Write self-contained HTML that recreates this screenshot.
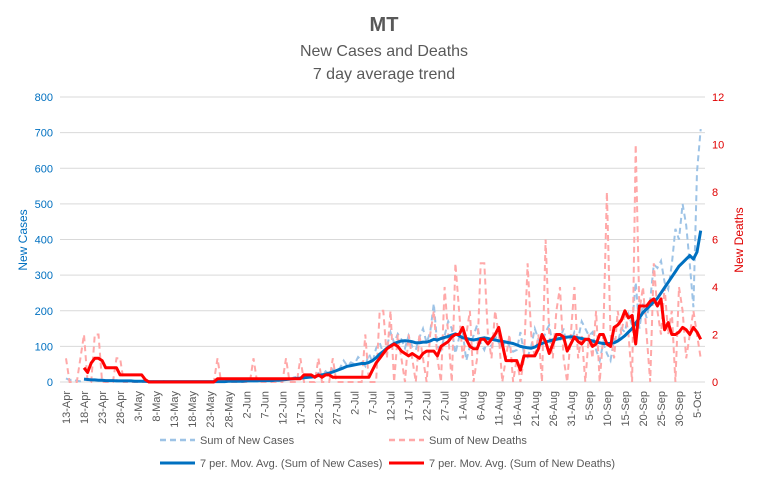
<!DOCTYPE html>
<html><head><meta charset="utf-8"><style>
body{margin:0;background:#fff;}
svg{display:block;font-family:"Liberation Sans",sans-serif;}
</style></head><body>
<svg id="chart" width="768" height="480" viewBox="0 0 768 480">
<rect width="768" height="480" fill="#fff"/>
<text x="384" y="31" text-anchor="middle" font-size="20" font-weight="bold" fill="#595959">MT</text>
<text x="384" y="56" text-anchor="middle" font-size="16" fill="#595959">New Cases and Deaths</text>
<text x="384" y="79" text-anchor="middle" font-size="16" fill="#595959">7 day average trend</text>
<text transform="translate(27,240) rotate(-90)" text-anchor="middle" font-size="12" fill="#0070C0">New Cases</text>
<text transform="translate(743,240) rotate(-90)" text-anchor="middle" font-size="12" fill="#E00000">New Deaths</text>
<g id="grid"></g><g id="xlabels"></g><g id="series"></g>
<g>
<line x1="160" y1="440" x2="195" y2="440" stroke="#9DC3E6" stroke-width="2.5" stroke-dasharray="6,4"/>
<text x="200" y="444" font-size="11" fill="#595959">Sum of New Cases</text>
<line x1="389" y1="440" x2="424" y2="440" stroke="#FFA8A8" stroke-width="2.5" stroke-dasharray="6,4"/>
<text x="429" y="444" font-size="11" fill="#595959">Sum of New Deaths</text>
<line x1="160" y1="463" x2="195" y2="463" stroke="#0070C0" stroke-width="3"/>
<text x="200" y="467" font-size="11" fill="#595959">7 per. Mov. Avg. (Sum of New Cases)</text>
<line x1="389" y1="463" x2="424" y2="463" stroke="#FF0000" stroke-width="3"/>
<text x="429" y="467" font-size="11" fill="#595959">7 per. Mov. Avg. (Sum of New Deaths)</text>
</g>
</svg>
<script>
const leftTicks=[0,100,200,300,400,500,600,700,800];
const rightTicks=[0,2,4,6,8,10,12];
const dateLabels=["13-Apr","18-Apr","23-Apr","28-Apr","3-May","8-May","13-May","18-May","23-May","28-May","2-Jun","7-Jun","12-Jun","17-Jun","22-Jun","27-Jun","2-Jul","7-Jul","12-Jul","17-Jul","22-Jul","27-Jul","1-Aug","6-Aug","11-Aug","16-Aug","21-Aug","26-Aug","31-Aug","5-Sep","10-Sep","15-Sep","20-Sep","25-Sep","30-Sep","5-Oct"];
const cases=[10,5,8,3,2,6,9,4,7,5,6,3,4,2,5,3,2,4,1,3,2,1,3,0,2,1,0,2,1,0,1,0,0,1,0,2,0,0,1,0,0,1,2,3,1,2,4,3,2,1,3,5,2,4,6,3,5,4,7,6,8,10,6,12,15,9,14,20,12,18,25,18,30,22,35,28,40,60,45,55,50,70,60,45,80,55,95,110,80,100,140,110,135,120,95,130,100,90,125,150,110,140,220,100,90,130,170,150,80,125,140,60,100,130,160,110,90,120,100,130,110,95,120,100,85,90,140,80,70,100,150,120,110,140,160,100,130,120,150,90,110,140,120,170,150,130,140,90,60,110,80,60,120,110,150,140,190,160,280,150,220,180,230,330,320,340,280,260,330,430,400,500,440,330,210,590,710];
const casesMA=[null,null,null,null,null,8,7,6,6,5,5,4,4,4,3,3,3,3,3,2,2,2,2,1,1,1,1,1,1,1,1,1,1,1,1,1,1,1,1,1,1,1,1,1,1,2,2,2,2,2,3,3,3,3,4,4,4,4,5,5,6,7,8,9,10,11,12,13,14,15,18,20,22,25,28,32,36,40,44,46,48,50,52,52,55,60,68,78,86,95,102,108,112,115,116,115,113,110,110,112,112,115,120,118,122,125,128,132,135,130,124,122,120,118,120,122,124,122,120,118,116,114,112,110,108,104,100,98,96,95,98,104,108,112,115,118,120,122,125,126,127,126,124,122,120,118,115,112,110,108,108,108,110,115,122,130,140,150,165,180,195,205,215,225,235,250,265,280,295,310,325,335,345,355,345,365,425];
const deaths=[1,0,0,0,1,2,0,0,2,2,0,0,0,0,1,1,0,0,0,0,0,0,0,0,0,0,0,0,0,0,0,0,0,0,0,0,0,0,0,0,0,0,1,0,0,0,0,0,0,0,0,0,1,0,0,0,0,0,0,0,0,1,0,0,0,1,0,0,0,0,1,0,0,0,1,0,0,0,0,0,0,0,0,2,0,0,0,3,3,1,3,0,2,1,0,2,1,0,2,1,0,2,3,1,0,4,2,0,5,3,1,2,3,0,1,5,5,2,1,3,2,0,1,2,0,1,0,1,5,2,1,2,0,6,2,1,3,4,1,0,2,4,1,2,0,2,1,3,0,2,8,2,1,3,2,3,2,0,10,3,4,2,0,5,3,2,4,2,3,0,4,3,1,2,3,2,1];
const deathsMA=[null,null,null,null,null,0.6,0.4,0.8,1.0,1.0,0.9,0.6,0.6,0.6,0.6,0.3,0.3,0.3,0.3,0.3,0.3,0.3,0.1,0,0,0,0,0,0,0,0,0,0,0,0,0,0,0,0,0,0,0,0.14,0.14,0.14,0.14,0.14,0.14,0.14,0.14,0.14,0.14,0.14,0.14,0.14,0.14,0.14,0.14,0.14,0.14,0.14,0.14,0.14,0.14,0.14,0.14,0.3,0.3,0.3,0.2,0.3,0.2,0.3,0.3,0.2,0.2,0.2,0.2,0.2,0.2,0.2,0.2,0.2,0.2,0.2,0.5,0.8,1.0,1.2,1.4,1.5,1.6,1.5,1.3,1.2,1.1,1.2,1.1,1.0,1.2,1.3,1.3,1.3,1.1,1.5,1.6,1.7,1.9,2.0,2.0,2.3,1.8,1.5,1.4,1.4,1.8,1.8,1.6,1.8,2.0,2.3,1.6,0.9,0.9,0.9,0.9,0.5,1.1,1.1,1.1,1.1,1.4,2.0,1.7,1.2,1.6,2.0,2.0,1.9,1.3,1.6,1.9,1.7,1.6,1.8,1.8,1.5,1.6,2.0,2.0,1.6,1.5,2.3,2.4,2.6,3.0,2.7,2.8,1.6,3.2,3.2,3.2,3.4,3.5,3.2,3.5,2.2,2.5,2.0,2.0,2.1,2.3,2.2,2.0,2.3,2.1,1.8];

const NS="http://www.w3.org/2000/svg";
const X0=66, DX=3.606, Y0=382, H=285;
function xs(d){return X0+DX*d;}
function yl(v){return Y0-v/800*H;}
function yr(v){return Y0-v/12*H;}
function mk(tag,attrs,parent){const e=document.createElementNS(NS,tag);for(const k in attrs)e.setAttribute(k,attrs[k]);parent.appendChild(e);return e;}
const grid=document.getElementById('grid');
leftTicks.forEach(v=>{
  const l=mk('line',{x1:60,x2:705,y1:yl(v),y2:yl(v),stroke:'#d9d9d9','stroke-width':1},grid);
  
  
  const t=mk('text',{x:53,y:yl(v)+4,'text-anchor':'end','font-size':11,fill:'#0070C0'},grid);
  t.textContent=v;
  
  
});
rightTicks.forEach(v=>{
  const t=mk('text',{x:712,y:yr(v)+4,'text-anchor':'start','font-size':11,fill:'#E00000'},grid);
  t.textContent=v;
  
  
});
const xl=document.getElementById('xlabels');
dateLabels.forEach((s,i)=>{
  const x=xs(i*5)+4;
  const t=mk('text',{transform:`translate(${x},391) rotate(-90)`,'text-anchor':'end','font-size':11,fill:'#595959'},xl);
  t.textContent=s;
  
  
});
function path(arr,yf){let d='',pen=false;arr.forEach((v,i)=>{if(v===null){pen=false;return;}d+=(pen?'L':'M')+xs(i).toFixed(1)+','+yf(v).toFixed(1);pen=true;});return d;}
const g=document.getElementById('series');
const p1=mk('path',{d:path(cases,yl),fill:'none',stroke:'#9DC3E6','stroke-width':2,'stroke-dasharray':'6,4'},g);


const p2=mk('path',{d:path(deaths,yr),fill:'none',stroke:'#FFA8A8','stroke-width':2,'stroke-dasharray':'6,4'},g);


const p3=mk('path',{d:path(casesMA,yl),fill:'none',stroke:'#0070C0','stroke-width':3,'stroke-linejoin':'round'},g);


const p4=mk('path',{d:path(deathsMA,yr),fill:'none',stroke:'#FF0000','stroke-width':3,'stroke-linejoin':'round'},g);


</script>
</body></html>
